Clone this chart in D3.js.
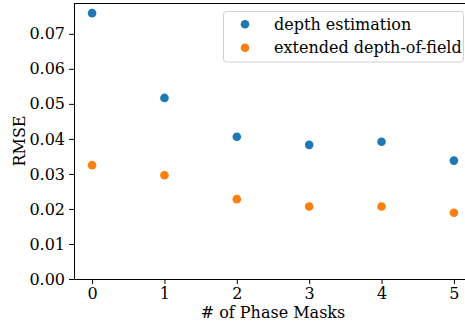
<!DOCTYPE html>
<html>
<head>
<meta charset="utf-8">
<script src="https://cdn.jsdelivr.net/npm/d3@7"></script>
<style>
  body { margin: 0; background: #fff; }
  svg { display: block; font-family: 'DejaVu Serif', serif; }
</style>
</head>
<body>
<div id="chart"></div>
<script>
const masks = [0, 1, 2, 3, 4, 5];
const depthEstimation = [0.0759, 0.0517, 0.0406, 0.0383, 0.0392, 0.0338];
const extendedDof = [0.0325, 0.0296, 0.0228, 0.0207, 0.0207, 0.0189];
const yTicks = [0, 0.01, 0.02, 0.03, 0.04, 0.05, 0.06, 0.07];
const seriesNames = ['depth estimation', 'extended depth-of-field'];
const colors = ['#1f77b4', '#ff7f0e'];

const width = 465, height = 323;
const margin = { top: 3, right: -7, bottom: 44, left: 74 };

const svg = d3.select('#chart')
  .append('svg')
  .attr('width', width)
  .attr('height', height);

const x = d3.scaleLinear()
  .domain([-0.25, 5.25])
  .range([margin.left, width - margin.right]);

const y = d3.scaleLinear()
  .domain([0, 0.0788])
  .range([height - margin.bottom, margin.top]);

// axes
svg.append('g')
  .attr('transform', `translate(0,${height - margin.bottom})`)
  .call(d3.axisBottom(x).tickValues(masks).tickFormat(d3.format('d')).tickSize(5).tickSizeOuter(0).tickPadding(4))
  .call(g => g.select('.domain').attr('stroke', '#000').attr('stroke-width', 1))
  .call(g => g.selectAll('.tick line').attr('stroke', '#000'))
  .call(g => g.selectAll('.tick text').attr('font-size', 16).attr('font-family', 'DejaVu Serif').attr('fill', '#000'));

svg.append('g')
  .attr('transform', `translate(${margin.left},0)`)
  .call(d3.axisLeft(y).tickValues(yTicks).tickFormat(d3.format('.2f')).tickSize(5).tickSizeOuter(0).tickPadding(4))
  .call(g => g.select('.domain').attr('stroke', '#000').attr('stroke-width', 1))
  .call(g => g.selectAll('.tick line').attr('stroke', '#000'))
  .call(g => g.selectAll('.tick text').attr('font-size', 16).attr('font-family', 'DejaVu Serif').attr('fill', '#000'));

// top spine
svg.append('line')
  .attr('x1', margin.left).attr('x2', width)
  .attr('y1', margin.top + 0.5).attr('y2', margin.top + 0.5)
  .attr('stroke', '#000');

// points
[depthEstimation, extendedDof].forEach((vals, i) => {
  svg.append('g')
    .selectAll('circle')
    .data(vals)
    .enter()
    .append('circle')
      .attr('cx', (d, j) => x(masks[j]))
      .attr('cy', d => y(d))
      .attr('r', 4.3)
      .attr('fill', colors[i]);
});

// labels
svg.append('text')
  .attr('x', x(2.5))
  .attr('y', 318)
  .attr('text-anchor', 'middle')
  .attr('font-size', 16)
  .text('# of Phase Masks');

svg.append('text')
  .attr('transform', `translate(25,${(margin.top + height - margin.bottom) / 2}) rotate(-90)`)
  .attr('text-anchor', 'middle')
  .attr('font-size', 16)
  .text('RMSE');

// legend
const legend = svg.append('g');
legend.append('rect')
  .attr('x', 223.5).attr('y', 11.5)
  .attr('width', 240).attr('height', 50.5)
  .attr('rx', 3)
  .attr('fill', '#fff').attr('fill-opacity', 0.8)
  .attr('stroke', '#d0d0d0');

seriesNames.forEach((name, i) => {
  const ly = 24.3 + i * 23.5;
  legend.append('circle')
    .attr('cx', 245).attr('cy', ly)
    .attr('r', 4.3)
    .attr('fill', colors[i]);
  legend.append('text')
    .attr('x', 274).attr('y', ly + 5.5)
    .attr('font-size', 16)
    .text(name);
});
</script>
</body>
</html>
